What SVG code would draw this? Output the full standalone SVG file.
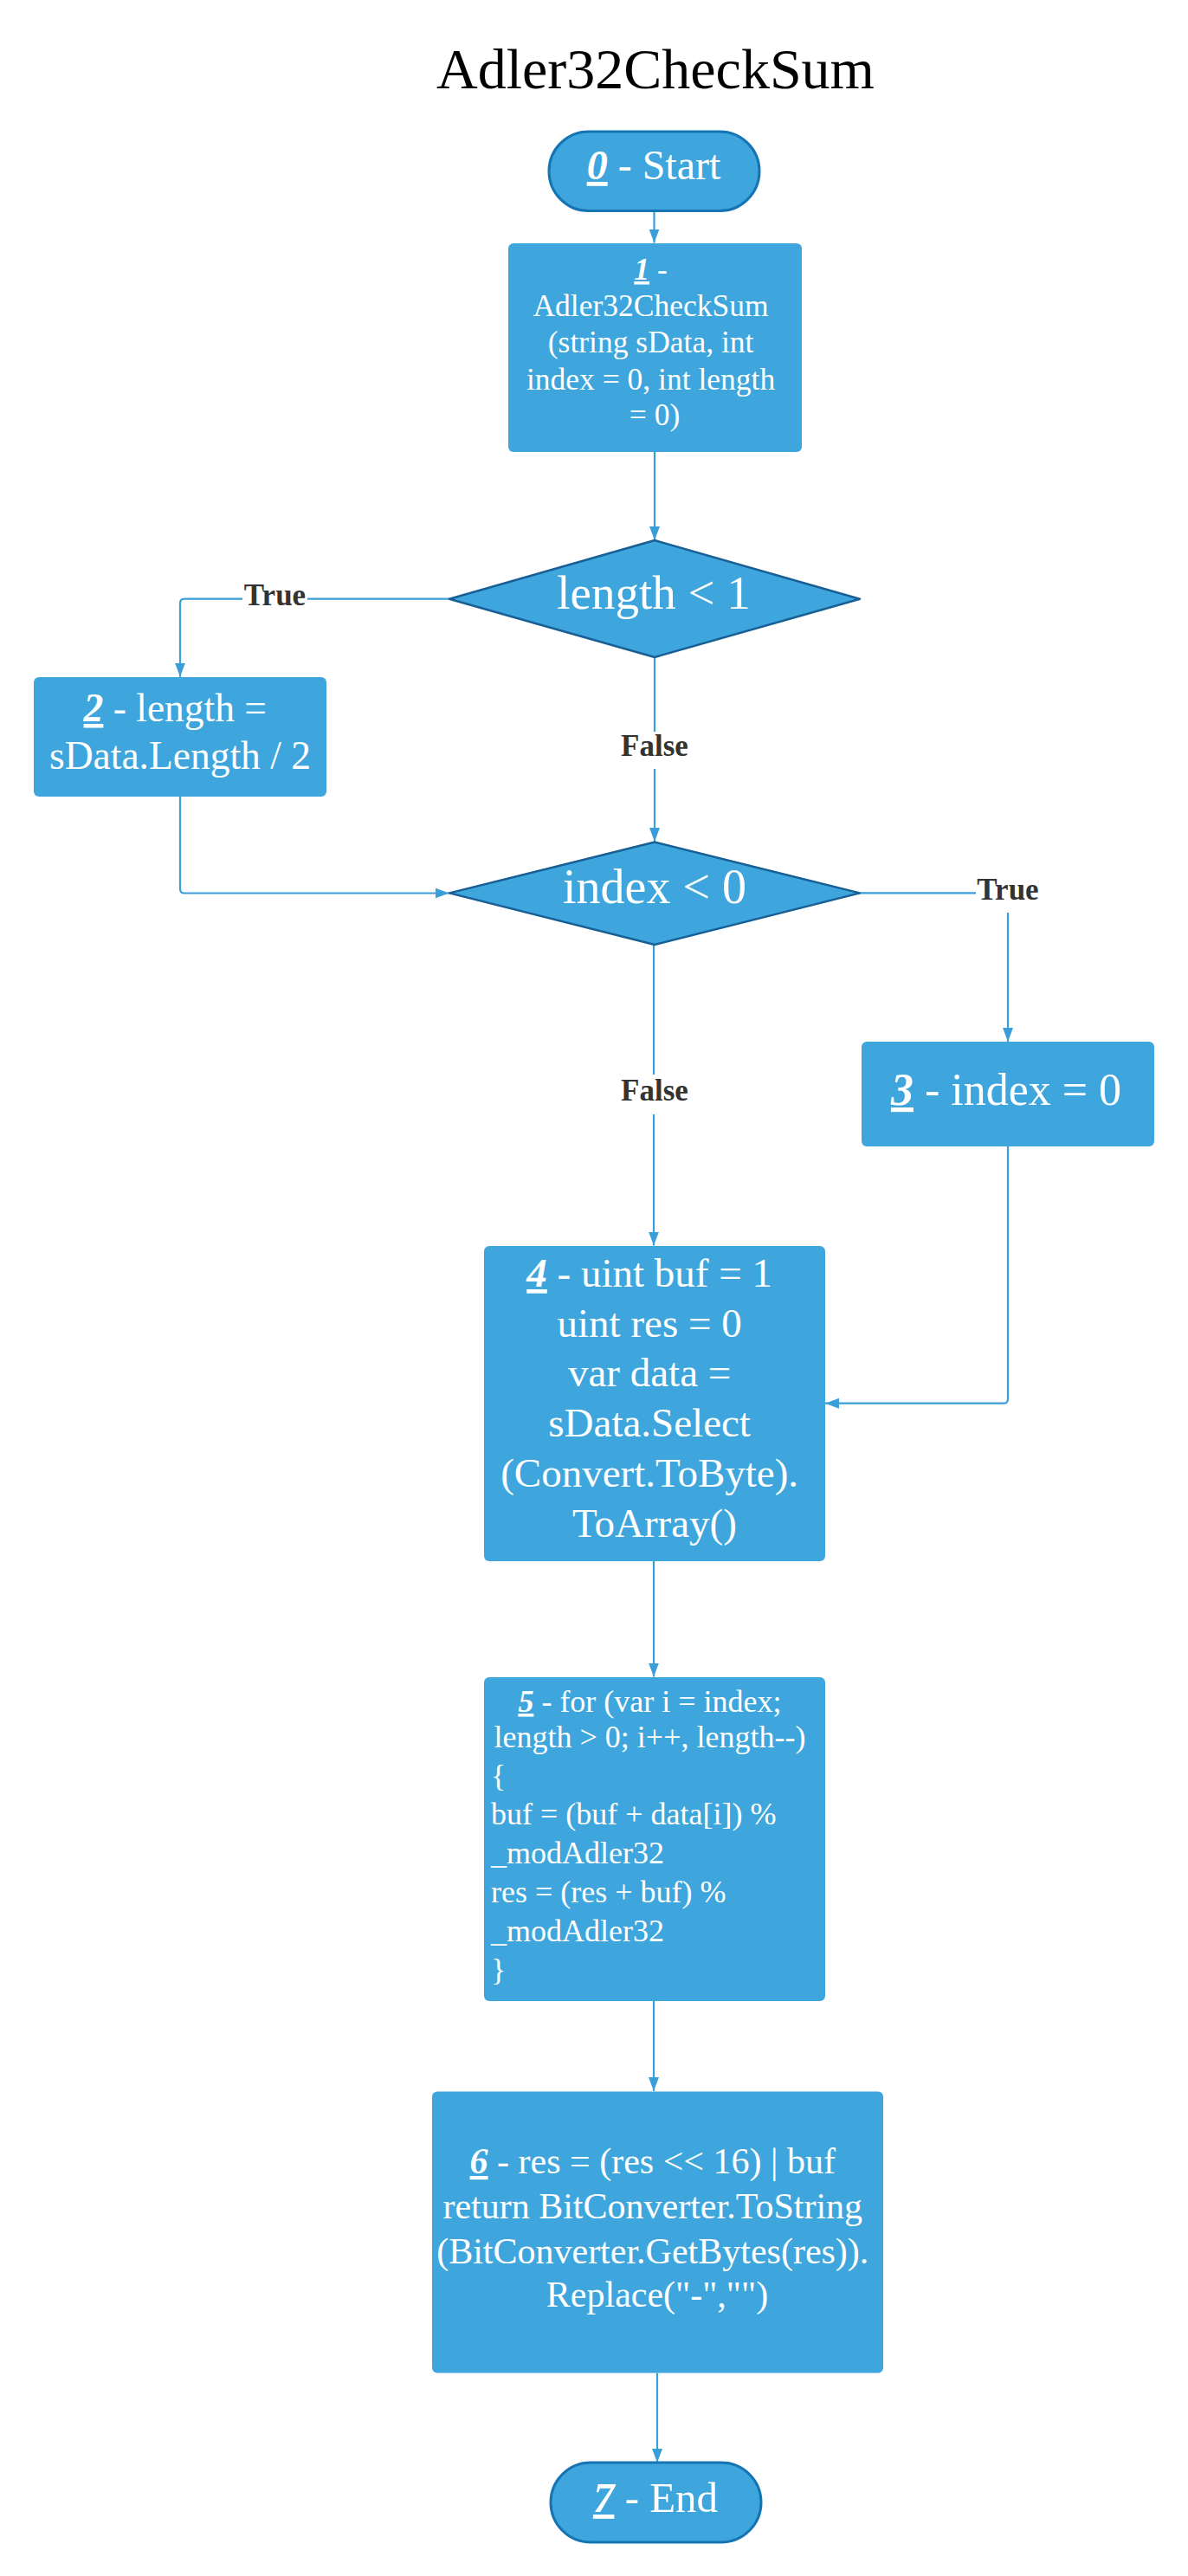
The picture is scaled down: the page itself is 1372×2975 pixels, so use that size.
<svg xmlns="http://www.w3.org/2000/svg" width="1372" height="2975" viewBox="0 0 1372 2975">
<defs>
<style>
.t{font-family:"Liberation Serif","Times New Roman",serif;}
.w{fill:#ffffff;}
.box{fill:#3ea6dd;}
.term{fill:#3ea6dd;stroke:#1574b4;stroke-width:3;}
.dia{fill:#3ea6dd;stroke:#175f95;stroke-width:2.5;stroke-linejoin:round;}
.lbl{font-family:"Liberation Serif","Times New Roman",serif;font-weight:bold;fill:#333333;font-size:35px;}
.lbg{fill:#ffffff;}
.num{font-weight:bold;font-style:italic;text-decoration:underline;}
.con{fill:none;stroke:#3a9fd9;stroke-width:2.2;}
</style>
<marker id="arr" markerUnits="userSpaceOnUse" markerWidth="18" markerHeight="14" refX="16" refY="6" orient="auto">
<path d="M0,0 L16,6 L0,12 z" fill="#3a9fd9"/>
</marker>
</defs>
<rect x="0" y="0" width="1372" height="2975" fill="#ffffff"/>
<text class="t" x="757" y="102" font-size="66" text-anchor="middle" fill="#000000">Adler32CheckSum</text>

<g id="connectors">
<path class="con" d="M755.5 243.5 V280.5" marker-end="url(#arr)"/>
<path class="con" d="M756 521.7 V624" marker-end="url(#arr)"/>
<path class="con" d="M519 691.7 H213 Q208 691.7 208 696.7 V781.7" marker-end="url(#arr)"/>
<path class="con" d="M756 759 V972" marker-end="url(#arr)"/>
<path class="con" d="M208 920 V1026.5 Q208 1031.5 213 1031.5 H518.6" marker-end="url(#arr)"/>
<path class="con" d="M993 1031.4 H1159 Q1164 1031.4 1164 1036.4 V1203" marker-end="url(#arr)"/>
<path class="con" d="M755 1091 V1438.6" marker-end="url(#arr)"/>
<path class="con" d="M1164 1324 V1615.7 Q1164 1620.7 1159 1620.7 H953" marker-end="url(#arr)"/>
<path class="con" d="M755 1803 V1936.5" marker-end="url(#arr)"/>
<path class="con" d="M755 2311 V2415" marker-end="url(#arr)"/>
<path class="con" d="M759 2740.5 V2844" marker-end="url(#arr)"/>
<rect class="lbg" x="280" y="672" width="75" height="38"/>
<text class="lbl" x="317.5" y="699" text-anchor="middle">True</text>
<rect class="lbg" x="714" y="845" width="84" height="43"/>
<text class="lbl" x="756" y="873" text-anchor="middle">False</text>
<rect class="lbg" x="1127" y="1009" width="75" height="45"/>
<text class="lbl" x="1164" y="1039" text-anchor="middle">True</text>
<rect class="lbg" x="714" y="1241" width="84" height="46"/>
<text class="lbl" x="756" y="1271" text-anchor="middle">False</text>
</g>

<g id="node0">
<rect class="term" x="634" y="152" width="243" height="91.5" rx="45.75"/>
<text class="t w" x="755" y="207" font-size="48" text-anchor="middle"><tspan class="num">0</tspan> - Start</text>
</g>

<g id="node1">
<rect class="box" x="587" y="281" width="339" height="241" rx="6"/>
<text class="t w" font-size="35.5" text-anchor="middle">
<tspan x="756" y="323"><tspan class="num">1</tspan> -</tspan>
<tspan x="756" y="365">Adler32CheckSum</tspan>
<tspan x="756" y="407">(string sData, int</tspan>
<tspan x="756" y="450">index = 0, int length</tspan>
<tspan x="756" y="491">= 0)</tspan>
</text>
</g>

<g id="decision1">
<polygon class="dia" points="756,624 993,691.7 756,759 519,691.7"/>
<text class="t w" x="755" y="703" font-size="55" text-anchor="middle">length &lt; 1</text>
</g>

<g id="node2">
<rect class="box" x="39" y="782" width="338" height="138" rx="6"/>
<text class="t w" font-size="45.5" text-anchor="middle">
<tspan x="208" y="833"><tspan class="num">2</tspan> - length =</tspan>
<tspan x="208" y="888">sData.Length / 2</tspan>
</text>
</g>

<g id="decision2">
<polygon class="dia" points="756,972.5 993,1031.4 756,1091 519,1031.4"/>
<text class="t w" x="756" y="1043" font-size="56" text-anchor="middle">index &lt; 0</text>
</g>

<g id="node3">
<rect class="box" x="995" y="1203" width="338" height="121" rx="6"/>
<text class="t w" x="1162" y="1276" font-size="52" text-anchor="middle"><tspan class="num">3</tspan> - index = 0</text>
</g>

<g id="node4">
<rect class="box" x="559" y="1439" width="394" height="364" rx="6"/>
<text class="t w" font-size="47" text-anchor="middle">
<tspan x="756" y="1486"><tspan class="num">4</tspan> - uint buf = 1</tspan>
<tspan x="756" y="1543.5">uint res = 0</tspan>
<tspan x="756" y="1601">var data =</tspan>
<tspan x="756" y="1659">sData.Select</tspan>
<tspan x="756" y="1717">(Convert.ToByte).</tspan>
<tspan x="756" y="1775">ToArray()</tspan>
</text>
</g>

<g id="node5">
<rect class="box" x="559" y="1937" width="394" height="374" rx="6"/>
<text class="t w" font-size="36">
<tspan x="755" y="1977" text-anchor="middle"><tspan class="num">5</tspan> - for (var i = index;</tspan>
<tspan x="755" y="2018" text-anchor="middle">length &gt; 0; i++, length--)</tspan>
<tspan x="567" y="2063">{</tspan>
<tspan x="567" y="2107">buf = (buf + data[i]) %</tspan>
<tspan x="567" y="2152">_modAdler32</tspan>
<tspan x="567" y="2197">res = (res + buf) %</tspan>
<tspan x="567" y="2242">_modAdler32</tspan>
<tspan x="567" y="2287">}</tspan>
</text>
</g>

<g id="node6">
<rect class="box" x="499" y="2415.5" width="521" height="325" rx="6"/>
<text class="t w" font-size="42" text-anchor="middle">
<tspan x="759" y="2510"><tspan class="num">6</tspan> - res = (res &lt;&lt; 16) | buf</tspan>
<tspan x="759" y="2562">return BitConverter.ToString</tspan>
<tspan x="759" y="2613.5">(BitConverter.GetBytes(res)).</tspan>
<tspan x="759" y="2664">Replace("-","")</tspan>
</text>
</g>

<g id="node7">
<rect class="term" x="636" y="2844" width="243" height="92" rx="46"/>
<text class="t w" x="757" y="2901" font-size="49" text-anchor="middle"><tspan class="num">7</tspan> - End</text>
</g>
</svg>
